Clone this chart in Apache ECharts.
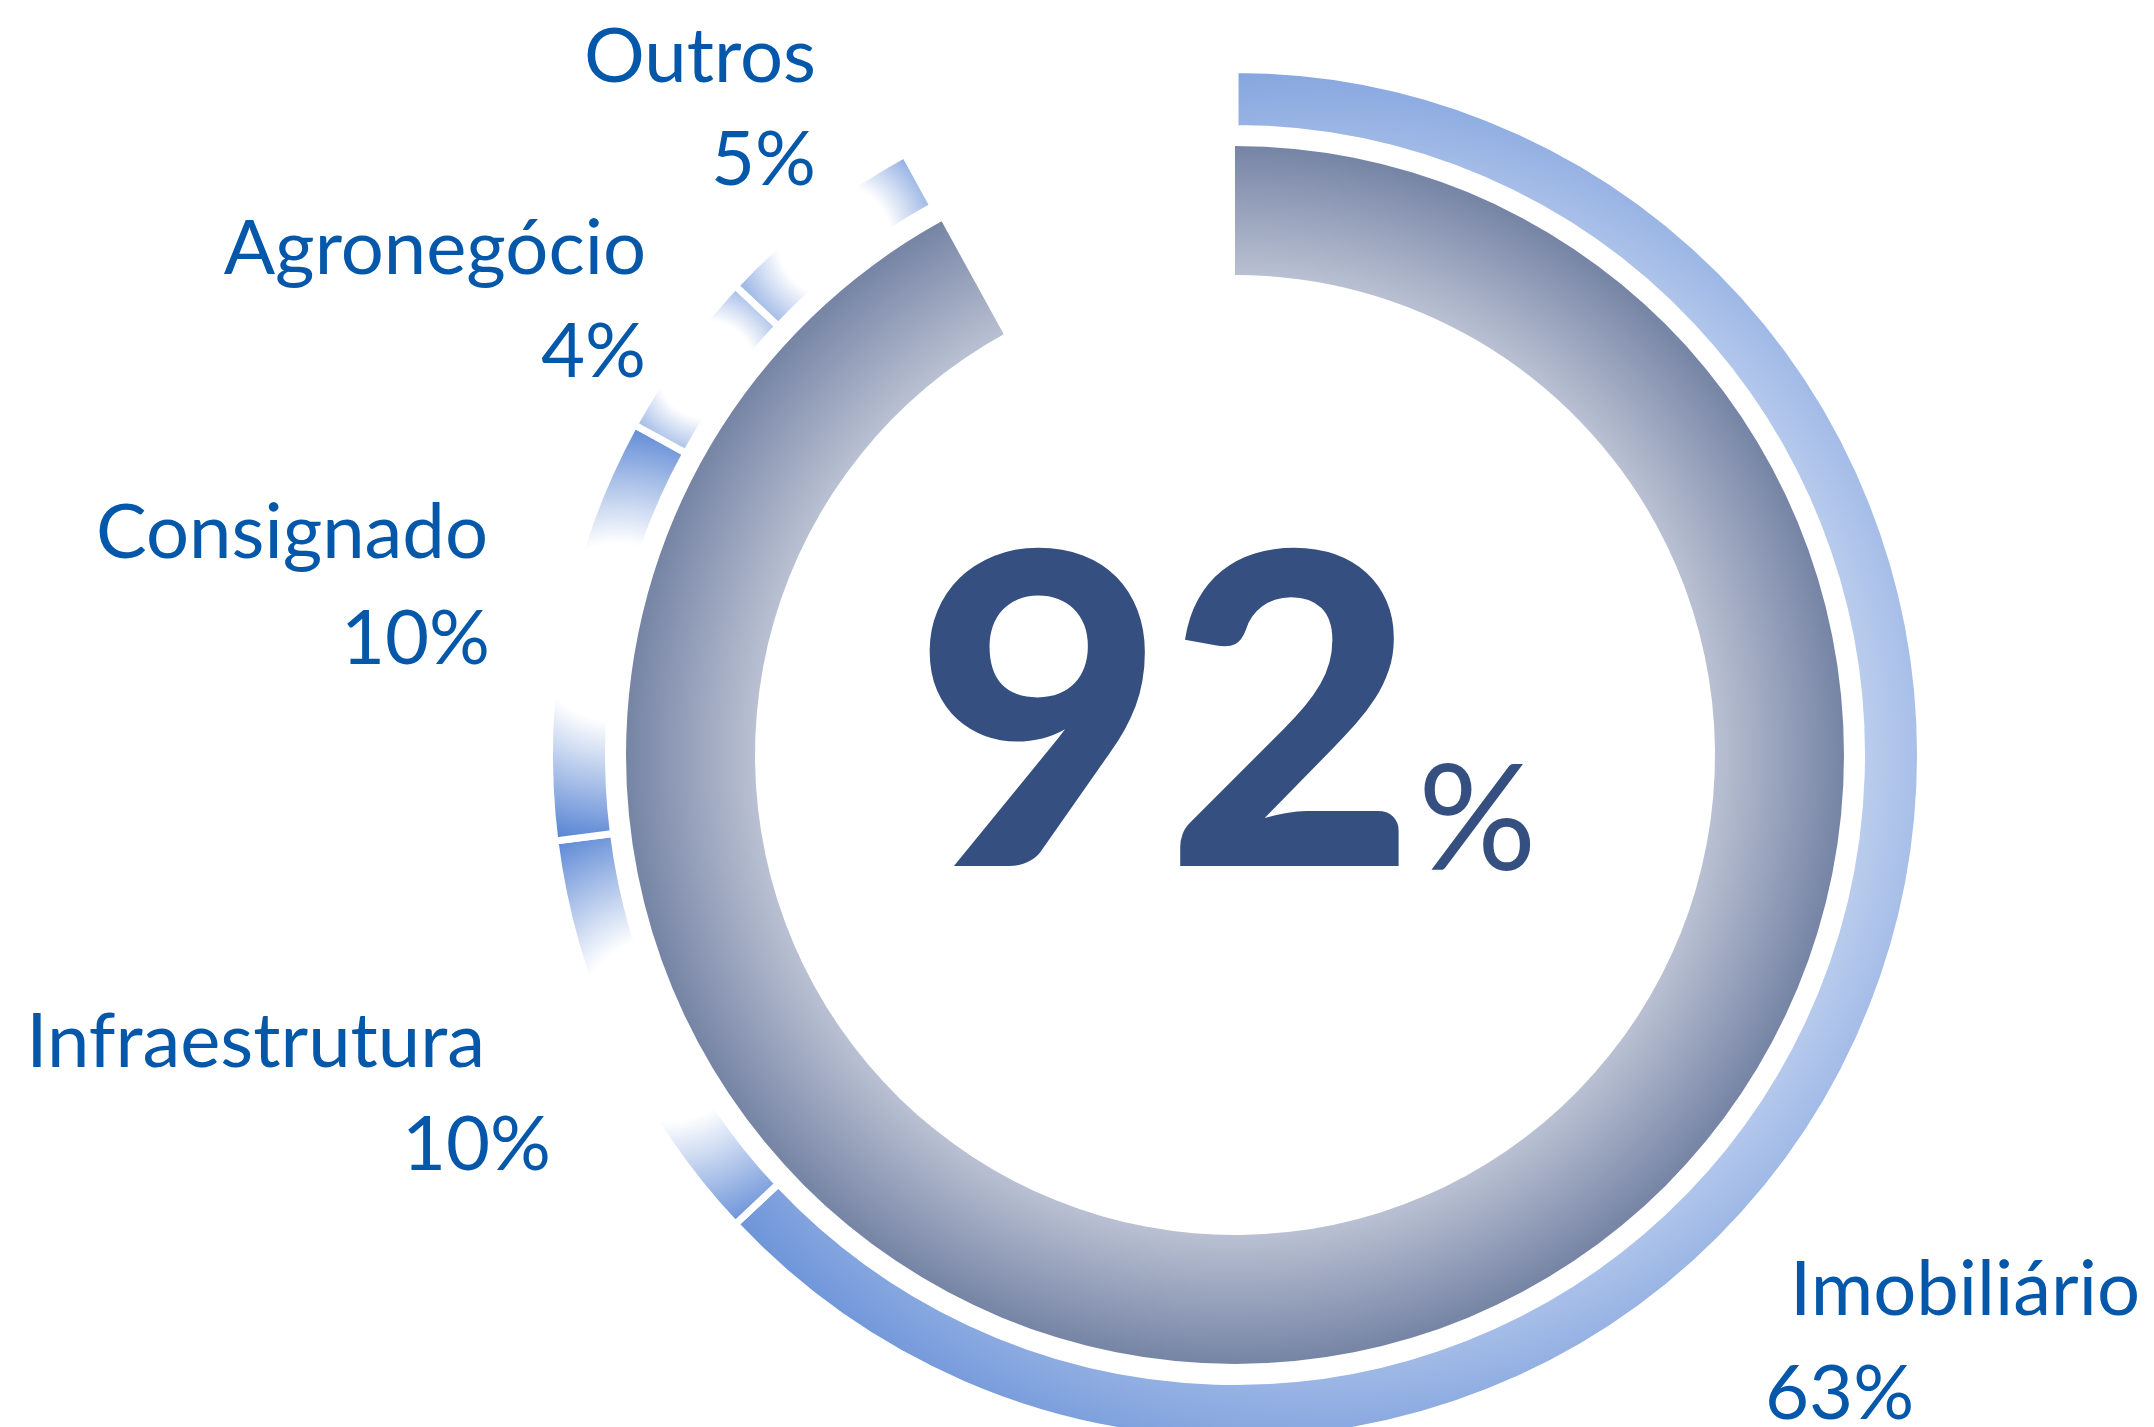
<!DOCTYPE html>
<html>
<head>
<meta charset="utf-8">
<style>
  html, body { margin: 0; padding: 0; background: #ffffff; }
  #chart { width: 2154px; height: 1427px; }
</style>
<script src="https://cdn.jsdelivr.net/npm/echarts@6/dist/echarts.min.js"></script>
</head>
<body>
<div id="chart"></div>
<script>
// ---- data ----
const categories = ['Imobiliário', 'Infraestrutura', 'Consignado', 'Agronegócio', 'Outros'];
const shares = [63, 10, 10, 4, 5];           // % of portfolio
const fullScale = 100;                        // ring represents 100 %

// ---- layout / style (not data) ----
const CENTER = [1235, 755];
const INNER_RADIUS = [480, 609];
const OUTER_RADIUS = [626.5, 685.5];
const GAP = 7;
const LABEL_COLOR = '#0558a9';
const BIG_COLOR = '#344f80';
const LABEL_FONT = '400 76px Lato, "Noto Sans", sans-serif';
// per-category label placement: name x/align/y, value x/align/y
const labelPlacement = [
  { nx: 1790, na: 'left',  ny: 1290, vx: 1765, va: 'left',  vy: 1394 },
  { nx: 485,  na: 'right', ny: 1042, vx: 551,  va: 'right', vy: 1145 },
  { nx: 488,  na: 'right', ny: 533,  vx: 490,  va: 'right', vy: 639 },
  { nx: 646,  na: 'right', ny: 249,  vx: 646,  va: 'right', vy: 352 },
  { nx: 816,  na: 'right', ny: 57,   vx: 816,  va: 'right', vy: 160 }
];
// radial glow size per segment (relative to its bounding box)
const glowRadius = [0.715, 1.0, 1.55, 0.81, 0.79];

const total = shares.reduce((a, b) => a + b, 0);

function segmentGradient(r) {
  return {
    type: 'radial', x: 0.5, y: 0.5, r: r,
    colorStops: [
      { offset: 0, color: '#ffffff' },
      { offset: 0.4, color: '#ffffff' },
      { offset: 1, color: '#4b7bd0' }
    ]
  };
}

const innerGradient = {
  type: 'radial', x: 0.5, y: 0.5, r: 0.5,
  colorStops: [
    { offset: 0, color: '#d3d8e3' },
    { offset: 0.785, color: '#bac1d3' },
    { offset: 1, color: '#7684a5' }
  ]
};

const outerData = categories.map((name, i) => ({
  name: name,
  value: shares[i],
  itemStyle: { color: segmentGradient(glowRadius[i]) }
}));
outerData.push({
  name: '', value: fullScale - total,
  itemStyle: { color: 'rgba(0,0,0,0)', borderWidth: 0 }
});

const graphics = [];
categories.forEach((name, i) => {
  const p = labelPlacement[i];
  graphics.push({
    type: 'text', x: p.nx, y: p.ny, z: 10,
    style: { text: name, font: LABEL_FONT, fill: LABEL_COLOR,
             align: p.na, textAlign: p.na, verticalAlign: 'middle', textVerticalAlign: 'middle' }
  });
  graphics.push({
    type: 'text', x: p.vx, y: p.vy, z: 10,
    style: { text: shares[i] + '%', font: LABEL_FONT, fill: LABEL_COLOR,
             align: p.va, textAlign: p.va, verticalAlign: 'middle', textVerticalAlign: 'middle' }
  });
});
// central total
graphics.push({
  type: 'text', x: 1417, y: 726, z: 10,
  style: { text: String(total), font: '900 434px Lato, "Noto Sans", sans-serif', fill: BIG_COLOR,
           align: 'right', textAlign: 'right', verticalAlign: 'middle', textVerticalAlign: 'middle' }
});
graphics.push({
  type: 'text', x: 1418, y: 822, z: 10,
  style: { text: '%', font: '400 148px Lato, "Noto Sans", sans-serif', fill: BIG_COLOR,
           align: 'left', textAlign: 'left', verticalAlign: 'middle', textVerticalAlign: 'middle' }
});

const chart = echarts.init(document.getElementById('chart'), null, { renderer: 'canvas' });
chart.setOption({
  backgroundColor: '#ffffff',
  animation: false,
  tooltip: { show: false },
  series: [
    {
      type: 'pie',
      center: CENTER,
      radius: INNER_RADIUS,
      startAngle: 90,
      clockwise: true,
      silent: true,
      label: { show: false },
      labelLine: { show: false },
      emphasis: { disabled: true },
      data: [
        { name: 'total', value: total, itemStyle: { color: innerGradient } },
        { name: '', value: fullScale - total, itemStyle: { color: 'rgba(0,0,0,0)' } }
      ]
    },
    {
      type: 'pie',
      center: CENTER,
      radius: OUTER_RADIUS,
      startAngle: 90,
      clockwise: true,
      silent: true,
      label: { show: false },
      labelLine: { show: false },
      emphasis: { disabled: true },
      itemStyle: { borderColor: '#ffffff', borderWidth: GAP },
      data: outerData
    }
  ],
  graphic: graphics
});
</script>
</body>
</html>
